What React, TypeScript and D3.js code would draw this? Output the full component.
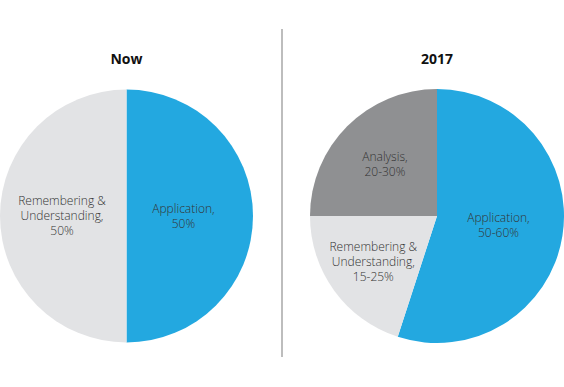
import * as d3 from 'd3';
import React from 'react';

const titles = ['Now', '2017'];
const nowLabels = [['Application,', '50%'], ['Remembering &', 'Understanding,', '50%']];
const nowValues = [50, 50];
const futureLabels = [['Application,', '50-60%'], ['Remembering &', 'Understanding,', '15-25%'], ['Analysis,', '20-30%']];
const futureValues = [55, 20, 25];

const colors = ['#23a8e0', '#e2e3e5', '#8f9092'];

const width = 564;
const height = 387;
const cy = 216;

// how far out (fraction of radius) each label sits
const labelFactors = [[0.45, 0.51], [0.49, 0.62, 0.58]];

function Pie({ cx, r, title, values, labels, factors }) {
  const pie = d3.pie().sort(null).value(d => d)(values);
  const arc = d3.arc().innerRadius(0).outerRadius(r);
  const lineH = 15;

  return (
    <g transform={`translate(${cx},${cy})`}>
      <text x={0} y={64 - cy} textAnchor="middle" fontWeight="bold" fontSize={14} fill="#111">
        {title}
      </text>
      {pie.map((p, i) => (
        <path key={i} d={arc(p)} fill={colors[i]} />
      ))}
      {pie.map((p, i) => {
        const mid = (p.startAngle + p.endAngle) / 2;
        const lr = r * factors[i];
        const x = Math.sin(mid) * lr;
        const y = -Math.cos(mid) * lr;
        const lines = labels[i];
        const top = y - ((lines.length - 1) * lineH) / 2;
        return (
          <g key={i}>
            {lines.map((l, j) => (
              <text key={j} x={x} y={top + j * lineH} dy="0.35em" textAnchor="middle" fontSize={12} fontWeight={300} fill="#333">
                {l}
              </text>
            ))}
          </g>
        );
      })}
    </g>
  );
}

export default function App() {
  return (
    <svg
      width={width}
      height={height}
      style={{ position: 'absolute', left: 0, top: 0, fontFamily: '"Open Sans", sans-serif', background: '#fff' }}
    >
      <Pie cx={126.5} r={126.5} title={titles[0]} values={nowValues} labels={nowLabels} factors={labelFactors[0]} />
      <line x1={282} x2={282} y1={29} y2={357} stroke="#bdbdbd" strokeWidth={2} />
      <Pie cx={437} r={127} title={titles[1]} values={futureValues} labels={futureLabels} factors={labelFactors[1]} />
    </svg>
  );
}
